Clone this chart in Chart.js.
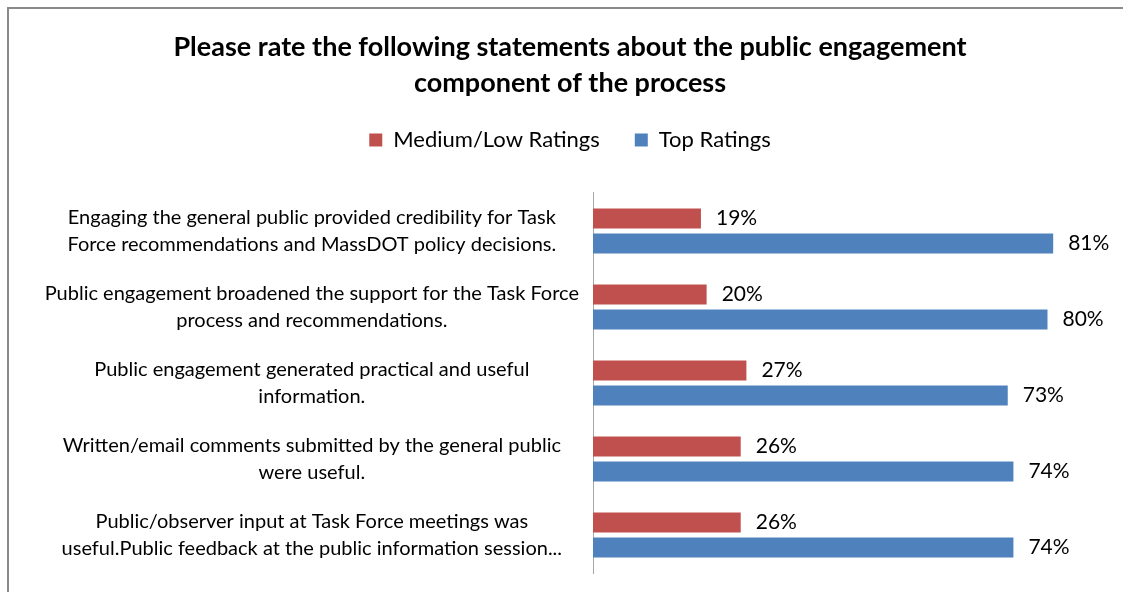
<!DOCTYPE html>
<html>
<head>
<meta charset="utf-8">
<script src="https://cdn.jsdelivr.net/npm/chart.js@4"></script>
<style>
  html, body { margin: 0; padding: 0; background: #fff; overflow: hidden; }
  #moldura {
    position: absolute; left: 7px; top: 7px; width: 1140px; height: 600px;
    border-left: 2px solid #8a8a8a; border-top: 2px solid #8a8a8a;
  }
  #graficoEngajamento { position: absolute; left: 9px; top: 9px; }
</style>
</head>
<body>
<div id="moldura"></div>
<canvas id="graficoEngajamento" width="1124" height="588"></canvas>
<script>
const afirmacoes = [
  ["Engaging the general public provided credibility for Task", "Force recommendations and MassDOT policy decisions."],
  ["Public engagement broadened the support for the Task Force", "process and recommendations."],
  ["Public engagement generated practical and useful", "information."],
  ["Written/email comments submitted by the general public", "were useful."],
  ["Public/observer input at Task Force meetings was", "useful.Public feedback at the public information session..."],
];
const notasMediaBaixa = [19, 20, 27, 26, 26];
const notasTopo = [81, 80, 73, 74, 74];
const titulo = [
  "Please rate the following statements about the public engagement",
  "component of the process",
];

Chart.defaults.font.family = "Lato";
Chart.defaults.color = "#000";

// escreve o percentual ao lado de cada barra
const rotulosValores = {
  id: "rotulosValores",
  afterDatasetsDraw(chart) {
    const ctx = chart.ctx;
    ctx.save();
    ctx.font = "21px Lato";
    ctx.fillStyle = "#000";
    ctx.textBaseline = "middle";
    ctx.textAlign = "left";
    chart.data.datasets.forEach((ds, i) => {
      chart.getDatasetMeta(i).data.forEach((barra, j) => {
        ctx.fillText(ds.data[j] + "%", barra.x + 15, barra.y);
      });
    });
    ctx.restore();
  },
};

// espaço extra abaixo da legenda
const espacoLegenda = {
  id: "espacoLegenda",
  beforeInit(chart) {
    const fitOriginal = chart.legend.fit;
    chart.legend.fit = function () {
      fitOriginal.bind(chart.legend)();
      this.height += 32;
    };
  },
};

const ctx = document.getElementById("graficoEngajamento").getContext("2d");
new Chart(ctx, {
  type: "bar",
  data: {
    labels: afirmacoes,
    datasets: [
      {
        label: "Medium/Low Ratings",
        data: notasMediaBaixa,
        backgroundColor: "#C0504D",
      },
      {
        label: "Top Ratings",
        data: notasTopo,
        backgroundColor: "#4F81BD",
      },
    ],
  },
  options: {
    indexAxis: "y",
    responsive: false,
    animation: false,
    categoryPercentage: 0.66,
    barPercentage: 0.8,
    layout: { padding: { left: 21, right: 23, top: 0, bottom: 24 } },
    plugins: {
      title: {
        display: true,
        text: titulo,
        color: "#000",
        font: { size: 27, weight: "bold", lineHeight: 1.333 },
        padding: { top: 20, bottom: -7 },
      },
      legend: {
        position: "top",
        labels: {
          boxWidth: 13,
          boxHeight: 13,
          padding: 35,
          color: "#000",
          font: { size: 22 },
        },
      },
      tooltip: { enabled: false },
    },
    scales: {
      x: {
        display: false,
        min: 0,
        max: 91,
      },
      y: {
        grid: { display: false },
        border: { display: true, color: "#a6a6a6", width: 1 },
        afterFit(scale) {
          // largura fixa e sem folga extra pelos rótulos de duas linhas
          scale.width = 563;
          scale.paddingTop = 0;
          scale.paddingBottom = 0;
        },
        ticks: {
          crossAlign: "center",
          padding: 6,
          color: "#000",
          font: { size: 20, lineHeight: 1.35 },
        },
      },
    },
  },
  plugins: [rotulosValores, espacoLegenda],
});
</script>
</body>
</html>
